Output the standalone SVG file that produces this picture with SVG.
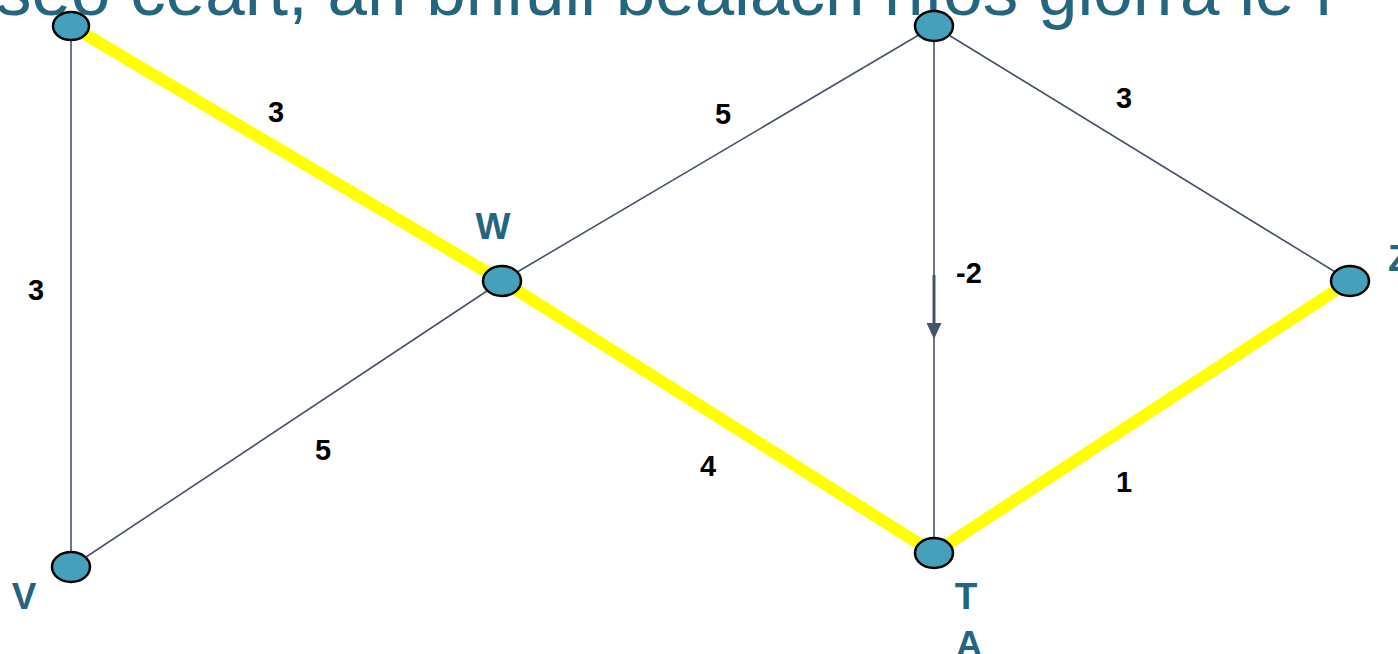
<svg xmlns="http://www.w3.org/2000/svg" width="1398" height="654" viewBox="0 0 1398 654">
<style>
.title{font-family:"Liberation Sans",Arial,sans-serif;font-size:71px;fill:#246580}
.e{stroke:#44546a;stroke-width:1.6;fill:none}
.hl{stroke:#ffff00;stroke-width:12;fill:none}
.n{fill:#45a0bb;stroke:#000;stroke-width:2.5}
.w{font-family:"Liberation Sans",Arial,sans-serif;font-size:29px;font-weight:bold;fill:#000;text-anchor:middle}
.lb{font-family:"Liberation Sans",Arial,sans-serif;font-size:37px;font-weight:bold;fill:#246580}
</style>
<text class="title" x="-4" y="15">seo ceart, an bhfuil bealach níos giorra le f</text>
<g id="connectors">
<line class="e" x1="71" y1="26" x2="71" y2="567"/>
<line class="e" x1="502" y1="281" x2="71" y2="567"/>
<line class="e" x1="502" y1="281" x2="934" y2="26"/>
<line class="e" x1="934" y1="26" x2="1350" y2="281"/>
<line class="e" x1="934" y1="26" x2="934" y2="553"/>
<line stroke="#44546a" stroke-width="3" x1="934" y1="275" x2="934" y2="325"/>
<polygon points="926.5,323 941.5,323 934,339" fill="#44546a"/>
<line class="hl" x1="71" y1="26" x2="502" y2="281"/>
<line class="hl" x1="502" y1="281" x2="934" y2="553"/>
<line class="hl" x1="1350" y1="281" x2="934" y2="553"/>
<text class="w" x="276" y="122">3</text>
<text class="w" x="723" y="124">5</text>
<text class="w" x="1124" y="108">3</text>
<text class="w" x="36" y="300">3</text>
<text class="w" x="969" y="283">-2</text>
<text class="w" x="323" y="460">5</text>
<text class="w" x="708" y="476">4</text>
<text class="w" x="1124" y="492">1</text>
</g>
<g id="node-top-left"><ellipse class="n" cx="71" cy="26" rx="18" ry="14"/></g>
<g id="node-W"><ellipse class="n" cx="502" cy="281" rx="19" ry="15"/><text class="lb" x="493" y="239" text-anchor="middle">W</text></g>
<g id="node-V"><ellipse class="n" cx="71" cy="567" rx="19" ry="15"/><text class="lb" x="24" y="609" text-anchor="middle">V</text></g>
<g id="node-top"><ellipse class="n" cx="934" cy="26" rx="19" ry="15"/></g>
<g id="node-Z"><ellipse class="n" cx="1350" cy="281" rx="19" ry="15"/><text class="lb" x="1388" y="271">Z</text></g>
<g id="node-T"><ellipse class="n" cx="934" cy="553" rx="19" ry="15"/><text class="lb" x="966" y="609" text-anchor="middle">T</text><text class="lb" x="969" y="657" text-anchor="middle">A</text></g>
</svg>
